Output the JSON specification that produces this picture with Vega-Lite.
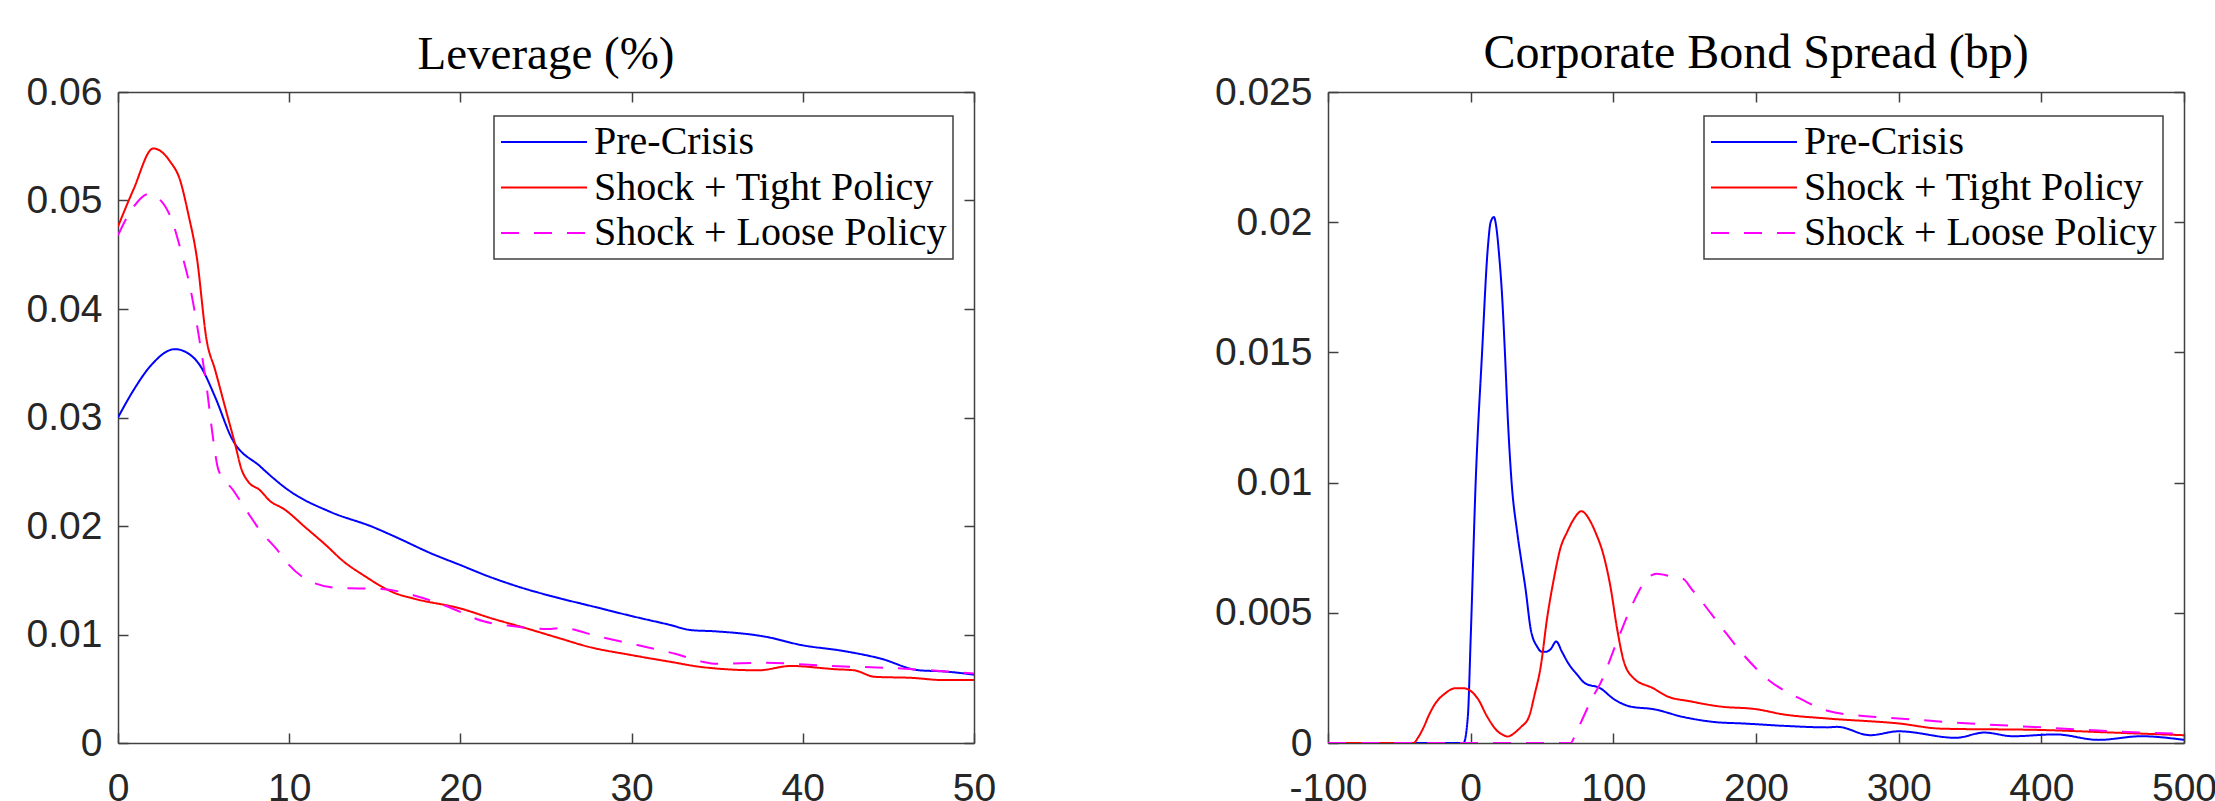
{
  "$schema": "https://vega.github.io/schema/vega-lite/v6.json",
  "autosize": {"type": "none"},
  "padding": {"left": 118, "top": 92, "right": 2097, "bottom": 709},
  "background": "#ffffff",
  "datasets": {
    "lev": [
      {"series": "Pre-Crisis", "x": 0, "y": 0.0300},
      {"series": "Pre-Crisis", "x": 0.9, "y": 0.0325},
      {"series": "Pre-Crisis", "x": 1.87, "y": 0.0347},
      {"series": "Pre-Crisis", "x": 3.33, "y": 0.0363},
      {"series": "Pre-Crisis", "x": 4.0, "y": 0.0360},
      {"series": "Pre-Crisis", "x": 4.79, "y": 0.0348},
      {"series": "Pre-Crisis", "x": 5.67, "y": 0.0319},
      {"series": "Pre-Crisis", "x": 6.64, "y": 0.0281},
      {"series": "Pre-Crisis", "x": 8.3, "y": 0.0255},
      {"series": "Pre-Crisis", "x": 10.05, "y": 0.0232},
      {"series": "Pre-Crisis", "x": 12.4, "y": 0.0213},
      {"series": "Pre-Crisis", "x": 14.9, "y": 0.0199},
      {"series": "Pre-Crisis", "x": 16.2, "y": 0.0190},
      {"series": "Pre-Crisis", "x": 18.4, "y": 0.0174},
      {"series": "Pre-Crisis", "x": 20, "y": 0.0164},
      {"series": "Pre-Crisis", "x": 21.4, "y": 0.0155},
      {"series": "Pre-Crisis", "x": 23.6, "y": 0.0143},
      {"series": "Pre-Crisis", "x": 25.9, "y": 0.0133},
      {"series": "Pre-Crisis", "x": 27.7, "y": 0.0126},
      {"series": "Pre-Crisis", "x": 30, "y": 0.0117},
      {"series": "Pre-Crisis", "x": 32.2, "y": 0.0109},
      {"series": "Pre-Crisis", "x": 33.5, "y": 0.0104},
      {"series": "Pre-Crisis", "x": 34.8, "y": 0.0103},
      {"series": "Pre-Crisis", "x": 37.8, "y": 0.0098},
      {"series": "Pre-Crisis", "x": 40, "y": 0.0090},
      {"series": "Pre-Crisis", "x": 42.3, "y": 0.0085},
      {"series": "Pre-Crisis", "x": 44.5, "y": 0.0078},
      {"series": "Pre-Crisis", "x": 46.8, "y": 0.0067},
      {"series": "Pre-Crisis", "x": 48.2, "y": 0.0066},
      {"series": "Pre-Crisis", "x": 50, "y": 0.0063},
      {"series": "Shock + Tight Policy", "x": 0, "y": 0.0476},
      {"series": "Shock + Tight Policy", "x": 0.9, "y": 0.0510},
      {"series": "Shock + Tight Policy", "x": 2.06, "y": 0.0548},
      {"series": "Shock + Tight Policy", "x": 3.04, "y": 0.0536},
      {"series": "Shock + Tight Policy", "x": 3.62, "y": 0.0519},
      {"series": "Shock + Tight Policy", "x": 4.1, "y": 0.0488},
      {"series": "Shock + Tight Policy", "x": 4.6, "y": 0.0448},
      {"series": "Shock + Tight Policy", "x": 5.18, "y": 0.0371},
      {"series": "Shock + Tight Policy", "x": 5.67, "y": 0.0344},
      {"series": "Shock + Tight Policy", "x": 6.35, "y": 0.0304},
      {"series": "Shock + Tight Policy", "x": 6.83, "y": 0.0276},
      {"series": "Shock + Tight Policy", "x": 7.22, "y": 0.0252},
      {"series": "Shock + Tight Policy", "x": 7.6, "y": 0.0241},
      {"series": "Shock + Tight Policy", "x": 8.29, "y": 0.0233},
      {"series": "Shock + Tight Policy", "x": 8.88, "y": 0.0223},
      {"series": "Shock + Tight Policy", "x": 9.66, "y": 0.0216},
      {"series": "Shock + Tight Policy", "x": 11.0, "y": 0.0198},
      {"series": "Shock + Tight Policy", "x": 12.1, "y": 0.0183},
      {"series": "Shock + Tight Policy", "x": 13.2, "y": 0.0167},
      {"series": "Shock + Tight Policy", "x": 14.3, "y": 0.0155},
      {"series": "Shock + Tight Policy", "x": 16.2, "y": 0.0138},
      {"series": "Shock + Tight Policy", "x": 17.3, "y": 0.0133},
      {"series": "Shock + Tight Policy", "x": 20, "y": 0.0124},
      {"series": "Shock + Tight Policy", "x": 21.8, "y": 0.0115},
      {"series": "Shock + Tight Policy", "x": 24, "y": 0.0105},
      {"series": "Shock + Tight Policy", "x": 25.9, "y": 0.0096},
      {"series": "Shock + Tight Policy", "x": 27.4, "y": 0.0089},
      {"series": "Shock + Tight Policy", "x": 30, "y": 0.0081},
      {"series": "Shock + Tight Policy", "x": 32.2, "y": 0.0075},
      {"series": "Shock + Tight Policy", "x": 34.1, "y": 0.0070},
      {"series": "Shock + Tight Policy", "x": 37.4, "y": 0.0067},
      {"series": "Shock + Tight Policy", "x": 39.3, "y": 0.0071},
      {"series": "Shock + Tight Policy", "x": 41.9, "y": 0.0068},
      {"series": "Shock + Tight Policy", "x": 43, "y": 0.0067},
      {"series": "Shock + Tight Policy", "x": 44.2, "y": 0.0061},
      {"series": "Shock + Tight Policy", "x": 46.4, "y": 0.0060},
      {"series": "Shock + Tight Policy", "x": 48.2, "y": 0.0058},
      {"series": "Shock + Tight Policy", "x": 50, "y": 0.0058},
      {"series": "Shock + Loose Policy", "x": 0, "y": 0.0468},
      {"series": "Shock + Loose Policy", "x": 0.9, "y": 0.0494},
      {"series": "Shock + Loose Policy", "x": 1.77, "y": 0.0506},
      {"series": "Shock + Loose Policy", "x": 2.55, "y": 0.0499},
      {"series": "Shock + Loose Policy", "x": 3.14, "y": 0.0482},
      {"series": "Shock + Loose Policy", "x": 3.72, "y": 0.0451},
      {"series": "Shock + Loose Policy", "x": 4.2, "y": 0.0421},
      {"series": "Shock + Loose Policy", "x": 4.69, "y": 0.0378},
      {"series": "Shock + Loose Policy", "x": 5.18, "y": 0.0328},
      {"series": "Shock + Loose Policy", "x": 5.57, "y": 0.0279},
      {"series": "Shock + Loose Policy", "x": 5.86, "y": 0.0252},
      {"series": "Shock + Loose Policy", "x": 6.73, "y": 0.0233},
      {"series": "Shock + Loose Policy", "x": 7.6, "y": 0.0212},
      {"series": "Shock + Loose Policy", "x": 8.29, "y": 0.0196},
      {"series": "Shock + Loose Policy", "x": 9.3, "y": 0.0178},
      {"series": "Shock + Loose Policy", "x": 10, "y": 0.0164},
      {"series": "Shock + Loose Policy", "x": 11.1, "y": 0.0150},
      {"series": "Shock + Loose Policy", "x": 12.8, "y": 0.0143},
      {"series": "Shock + Loose Policy", "x": 15.4, "y": 0.0142},
      {"series": "Shock + Loose Policy", "x": 17.3, "y": 0.0136},
      {"series": "Shock + Loose Policy", "x": 19.2, "y": 0.0126},
      {"series": "Shock + Loose Policy", "x": 21.4, "y": 0.0112},
      {"series": "Shock + Loose Policy", "x": 22.9, "y": 0.0108},
      {"series": "Shock + Loose Policy", "x": 25.1, "y": 0.0105},
      {"series": "Shock + Loose Policy", "x": 25.9, "y": 0.0106},
      {"series": "Shock + Loose Policy", "x": 28.1, "y": 0.0098},
      {"series": "Shock + Loose Policy", "x": 30.4, "y": 0.0090},
      {"series": "Shock + Loose Policy", "x": 32.6, "y": 0.0082},
      {"series": "Shock + Loose Policy", "x": 34.1, "y": 0.0075},
      {"series": "Shock + Loose Policy", "x": 35, "y": 0.0073},
      {"series": "Shock + Loose Policy", "x": 37.8, "y": 0.0074},
      {"series": "Shock + Loose Policy", "x": 41.5, "y": 0.0071},
      {"series": "Shock + Loose Policy", "x": 45.3, "y": 0.0069},
      {"series": "Shock + Loose Policy", "x": 50, "y": 0.0064}
    ],
    "spread": [
      {"series": "Pre-Crisis", "x": -100, "y": 0},
      {"series": "Pre-Crisis", "x": -5, "y": 0},
      {"series": "Pre-Crisis", "x": -2, "y": 0.0010},
      {"series": "Pre-Crisis", "x": 0, "y": 0.0040},
      {"series": "Pre-Crisis", "x": 3.5, "y": 0.0100},
      {"series": "Pre-Crisis", "x": 8, "y": 0.0150},
      {"series": "Pre-Crisis", "x": 12, "y": 0.0190},
      {"series": "Pre-Crisis", "x": 14, "y": 0.0200},
      {"series": "Pre-Crisis", "x": 16.3, "y": 0.0202},
      {"series": "Pre-Crisis", "x": 18, "y": 0.0198},
      {"series": "Pre-Crisis", "x": 20, "y": 0.0187},
      {"series": "Pre-Crisis", "x": 22, "y": 0.0172},
      {"series": "Pre-Crisis", "x": 24, "y": 0.0150},
      {"series": "Pre-Crisis", "x": 26, "y": 0.0125},
      {"series": "Pre-Crisis", "x": 28.7, "y": 0.0100},
      {"series": "Pre-Crisis", "x": 32.6, "y": 0.0081},
      {"series": "Pre-Crisis", "x": 35.5, "y": 0.0070},
      {"series": "Pre-Crisis", "x": 38.5, "y": 0.0059},
      {"series": "Pre-Crisis", "x": 42, "y": 0.0044},
      {"series": "Pre-Crisis", "x": 46.6, "y": 0.0037},
      {"series": "Pre-Crisis", "x": 50, "y": 0.0035},
      {"series": "Pre-Crisis", "x": 52.4, "y": 0.0035},
      {"series": "Pre-Crisis", "x": 56, "y": 0.0036},
      {"series": "Pre-Crisis", "x": 60, "y": 0.0039},
      {"series": "Pre-Crisis", "x": 64, "y": 0.0035},
      {"series": "Pre-Crisis", "x": 68, "y": 0.0031},
      {"series": "Pre-Crisis", "x": 75, "y": 0.0026},
      {"series": "Pre-Crisis", "x": 80, "y": 0.0023},
      {"series": "Pre-Crisis", "x": 91, "y": 0.0021},
      {"series": "Pre-Crisis", "x": 100, "y": 0.0017},
      {"series": "Pre-Crisis", "x": 112, "y": 0.0014},
      {"series": "Pre-Crisis", "x": 128, "y": 0.0013},
      {"series": "Pre-Crisis", "x": 149, "y": 0.0010},
      {"series": "Pre-Crisis", "x": 172, "y": 0.0008},
      {"series": "Pre-Crisis", "x": 191, "y": 0.00075},
      {"series": "Pre-Crisis", "x": 219, "y": 0.00066},
      {"series": "Pre-Crisis", "x": 250, "y": 0.0006},
      {"series": "Pre-Crisis", "x": 257, "y": 0.00062},
      {"series": "Pre-Crisis", "x": 280, "y": 0.0003},
      {"series": "Pre-Crisis", "x": 300, "y": 0.00045},
      {"series": "Pre-Crisis", "x": 340, "y": 0.0002},
      {"series": "Pre-Crisis", "x": 360, "y": 0.0004},
      {"series": "Pre-Crisis", "x": 380, "y": 0.00026},
      {"series": "Pre-Crisis", "x": 410, "y": 0.00033},
      {"series": "Pre-Crisis", "x": 440, "y": 0.00012},
      {"series": "Pre-Crisis", "x": 470, "y": 0.00026},
      {"series": "Pre-Crisis", "x": 500, "y": 0.00012},
      {"series": "Shock + Tight Policy", "x": -100, "y": 0},
      {"series": "Shock + Tight Policy", "x": -40, "y": 0},
      {"series": "Shock + Tight Policy", "x": -37, "y": 0.0002},
      {"series": "Shock + Tight Policy", "x": -33, "y": 0.0006},
      {"series": "Shock + Tight Policy", "x": -29, "y": 0.0011},
      {"series": "Shock + Tight Policy", "x": -25, "y": 0.0015},
      {"series": "Shock + Tight Policy", "x": -18, "y": 0.0019},
      {"series": "Shock + Tight Policy", "x": -11, "y": 0.0021},
      {"series": "Shock + Tight Policy", "x": -5, "y": 0.0021},
      {"series": "Shock + Tight Policy", "x": 0, "y": 0.0020},
      {"series": "Shock + Tight Policy", "x": 5, "y": 0.0017},
      {"series": "Shock + Tight Policy", "x": 11.7, "y": 0.0010},
      {"series": "Shock + Tight Policy", "x": 18, "y": 0.0005},
      {"series": "Shock + Tight Policy", "x": 23, "y": 0.0003},
      {"series": "Shock + Tight Policy", "x": 26, "y": 0.00025},
      {"series": "Shock + Tight Policy", "x": 31, "y": 0.0004},
      {"series": "Shock + Tight Policy", "x": 35, "y": 0.0006},
      {"series": "Shock + Tight Policy", "x": 40.8, "y": 0.0010},
      {"series": "Shock + Tight Policy", "x": 45, "y": 0.0019},
      {"series": "Shock + Tight Policy", "x": 49, "y": 0.0029},
      {"series": "Shock + Tight Policy", "x": 53.6, "y": 0.0048},
      {"series": "Shock + Tight Policy", "x": 58.3, "y": 0.0063},
      {"series": "Shock + Tight Policy", "x": 63, "y": 0.0075},
      {"series": "Shock + Tight Policy", "x": 67.6, "y": 0.0081},
      {"series": "Shock + Tight Policy", "x": 72.3, "y": 0.0086},
      {"series": "Shock + Tight Policy", "x": 77.6, "y": 0.0089},
      {"series": "Shock + Tight Policy", "x": 84, "y": 0.0085},
      {"series": "Shock + Tight Policy", "x": 87.4, "y": 0.0081},
      {"series": "Shock + Tight Policy", "x": 93.2, "y": 0.0072},
      {"series": "Shock + Tight Policy", "x": 98, "y": 0.0060},
      {"series": "Shock + Tight Policy", "x": 102.6, "y": 0.0044},
      {"series": "Shock + Tight Policy", "x": 107, "y": 0.0032},
      {"series": "Shock + Tight Policy", "x": 114, "y": 0.0025},
      {"series": "Shock + Tight Policy", "x": 128, "y": 0.0021},
      {"series": "Shock + Tight Policy", "x": 137.5, "y": 0.0018},
      {"series": "Shock + Tight Policy", "x": 154, "y": 0.0016},
      {"series": "Shock + Tight Policy", "x": 175, "y": 0.0014},
      {"series": "Shock + Tight Policy", "x": 200, "y": 0.0013},
      {"series": "Shock + Tight Policy", "x": 219, "y": 0.0011},
      {"series": "Shock + Tight Policy", "x": 250, "y": 0.00094},
      {"series": "Shock + Tight Policy", "x": 300, "y": 0.00075},
      {"series": "Shock + Tight Policy", "x": 330, "y": 0.00055},
      {"series": "Shock + Tight Policy", "x": 400, "y": 0.0005},
      {"series": "Shock + Tight Policy", "x": 450, "y": 0.0004},
      {"series": "Shock + Tight Policy", "x": 500, "y": 0.0003},
      {"series": "Shock + Loose Policy", "x": -100, "y": 0},
      {"series": "Shock + Loose Policy", "x": 70, "y": 0},
      {"series": "Shock + Loose Policy", "x": 74, "y": 0.0004},
      {"series": "Shock + Loose Policy", "x": 79, "y": 0.0010},
      {"series": "Shock + Loose Policy", "x": 85, "y": 0.0017},
      {"series": "Shock + Loose Policy", "x": 91, "y": 0.0023},
      {"series": "Shock + Loose Policy", "x": 102.6, "y": 0.0039},
      {"series": "Shock + Loose Policy", "x": 114, "y": 0.0054},
      {"series": "Shock + Loose Policy", "x": 123.5, "y": 0.0063},
      {"series": "Shock + Loose Policy", "x": 130.5, "y": 0.0065},
      {"series": "Shock + Loose Policy", "x": 140, "y": 0.0064},
      {"series": "Shock + Loose Policy", "x": 149, "y": 0.0063},
      {"series": "Shock + Loose Policy", "x": 155, "y": 0.0059},
      {"series": "Shock + Loose Policy", "x": 161, "y": 0.0055},
      {"series": "Shock + Loose Policy", "x": 175, "y": 0.0045},
      {"series": "Shock + Loose Policy", "x": 191, "y": 0.0034},
      {"series": "Shock + Loose Policy", "x": 207, "y": 0.0025},
      {"series": "Shock + Loose Policy", "x": 231, "y": 0.0017},
      {"series": "Shock + Loose Policy", "x": 250, "y": 0.00124},
      {"series": "Shock + Loose Policy", "x": 275, "y": 0.00104},
      {"series": "Shock + Loose Policy", "x": 300, "y": 0.00094},
      {"series": "Shock + Loose Policy", "x": 350, "y": 0.00075},
      {"series": "Shock + Loose Policy", "x": 400, "y": 0.0006},
      {"series": "Shock + Loose Policy", "x": 450, "y": 0.00045},
      {"series": "Shock + Loose Policy", "x": 500, "y": 0.00035}
    ]
  },
  "spacing": 354,
  "bounds": "flush",
  "resolve": {
    "scale": {"color": "independent", "strokeDash": "independent"},
    "legend": {"color": "independent", "strokeDash": "independent"}
  },
  "hconcat": [
    {
      "width": 856,
      "height": 651,
      "title": {"text": "Leverage (%)", "font": "Liberation Serif", "fontSize": 47, "fontWeight": "normal", "color": "#000000", "offset": -43, "baseline": "alphabetic", "anchor": "middle"},
      "data": {"name": "lev"},
      "layer": [
        {
          "mark": {"type": "line", "strokeWidth": 2, "interpolate": "monotone", "clip": true},
          "encoding": {
            "x": {"field": "x", "type": "quantitative", "scale": {"domain": [0, 50], "nice": false, "zero": false},
                  "axis": {"orient": "bottom", "title": null, "values": [0, 10, 20, 30, 40, 50], "labelExpr": "'' + datum.value", "labelPadding": 36}},
            "y": {"field": "y", "type": "quantitative", "scale": {"domain": [0, 0.06], "nice": false},
                  "axis": {"orient": "left", "title": null, "values": [0, 0.01, 0.02, 0.03, 0.04, 0.05, 0.06], "labelExpr": "'' + datum.value", "labelPadding": 26}},
            "color": {"field": "series", "type": "nominal",
                      "scale": {"domain": ["Pre-Crisis", "Shock + Tight Policy", "Shock + Loose Policy"], "range": ["#0000ff", "#ff0000", "#ff00ff"]},
                      "legend": {"orient": "none", "legendX": 376, "legendY": 24}},
            "strokeDash": {"field": "series", "type": "nominal",
                      "scale": {"domain": ["Pre-Crisis", "Shock + Tight Policy", "Shock + Loose Policy"], "range": [[1, 0], [1, 0], [18, 15]]},
                      "legend": {"orient": "none", "legendX": 376, "legendY": 24}}
          }
        },
        {
          "mark": {"type": "line", "opacity": 0},
          "encoding": {
            "x": {"field": "x", "type": "quantitative", "axis": {"orient": "top", "title": null, "labels": false, "values": [0, 10, 20, 30, 40, 50]}},
            "y": {"field": "y", "type": "quantitative", "axis": {"orient": "right", "title": null, "labels": false, "values": [0, 0.01, 0.02, 0.03, 0.04, 0.05, 0.06]}}
          }
        }
      ],
      "resolve": {"axis": {"x": "independent", "y": "independent"}}
    },
    {
      "width": 856,
      "height": 651,
      "title": {"text": "Corporate Bond Spread (bp)", "font": "Liberation Serif", "fontSize": 48, "fontWeight": "normal", "color": "#000000", "offset": -43, "baseline": "alphabetic", "anchor": "middle"},
      "data": {"name": "spread"},
      "layer": [
        {
          "mark": {"type": "line", "strokeWidth": 2, "interpolate": "monotone", "clip": true},
          "encoding": {
            "x": {"field": "x", "type": "quantitative", "scale": {"domain": [-100, 500], "nice": false, "zero": false},
                  "axis": {"orient": "bottom", "title": null, "values": [-100, 0, 100, 200, 300, 400, 500], "labelExpr": "'' + datum.value", "labelPadding": 36}},
            "y": {"field": "y", "type": "quantitative", "scale": {"domain": [0, 0.025], "nice": false},
                  "axis": {"orient": "left", "title": null, "values": [0, 0.005, 0.01, 0.015, 0.02, 0.025], "labelExpr": "'' + datum.value", "labelPadding": 26}},
            "color": {"field": "series", "type": "nominal",
                      "scale": {"domain": ["Pre-Crisis", "Shock + Tight Policy", "Shock + Loose Policy"], "range": ["#0000ff", "#ff0000", "#ff00ff"]},
                      "legend": {"orient": "none", "legendX": 376, "legendY": 24}},
            "strokeDash": {"field": "series", "type": "nominal",
                      "scale": {"domain": ["Pre-Crisis", "Shock + Tight Policy", "Shock + Loose Policy"], "range": [[1, 0], [1, 0], [18, 15]]},
                      "legend": {"orient": "none", "legendX": 376, "legendY": 24}}
          }
        },
        {
          "mark": {"type": "line", "opacity": 0},
          "encoding": {
            "x": {"field": "x", "type": "quantitative", "axis": {"orient": "top", "title": null, "labels": false, "values": [-100, 0, 100, 200, 300, 400, 500]}},
            "y": {"field": "y", "type": "quantitative", "axis": {"orient": "right", "title": null, "labels": false, "values": [0, 0.005, 0.01, 0.015, 0.02, 0.025]}}
          }
        }
      ],
      "resolve": {"axis": {"x": "independent", "y": "independent"}}
    }
  ],
  "config": {
    "view": {"stroke": null},
    "axis": {
      "grid": false,
      "domainColor": "#404040",
      "domainWidth": 1.5,
      "tickColor": "#404040",
      "tickWidth": 1.5,
      "tickSize": -10,
      "labelFont": "Liberation Sans",
      "labelFontSize": 39,
      "labelColor": "#262626",
      "labelFlush": false,
      "labelOverlap": false
    },
    "legend": {
      "title": null,
      "symbolType": "stroke",
      "symbolSize": 7396,
      "symbolStrokeWidth": 2,
      "labelFont": "Liberation Serif",
      "labelFontSize": 40,
      "labelColor": "#000000",
      "labelOffset": 6,
      "labelLimit": 0,
      "clipHeight": 40,
      "rowPadding": 5.5,
      "padding": 6,
      "strokeColor": "#404040",
      "strokeWidth": 1.5,
      "fillColor": "#ffffff"
    }
  }
}
